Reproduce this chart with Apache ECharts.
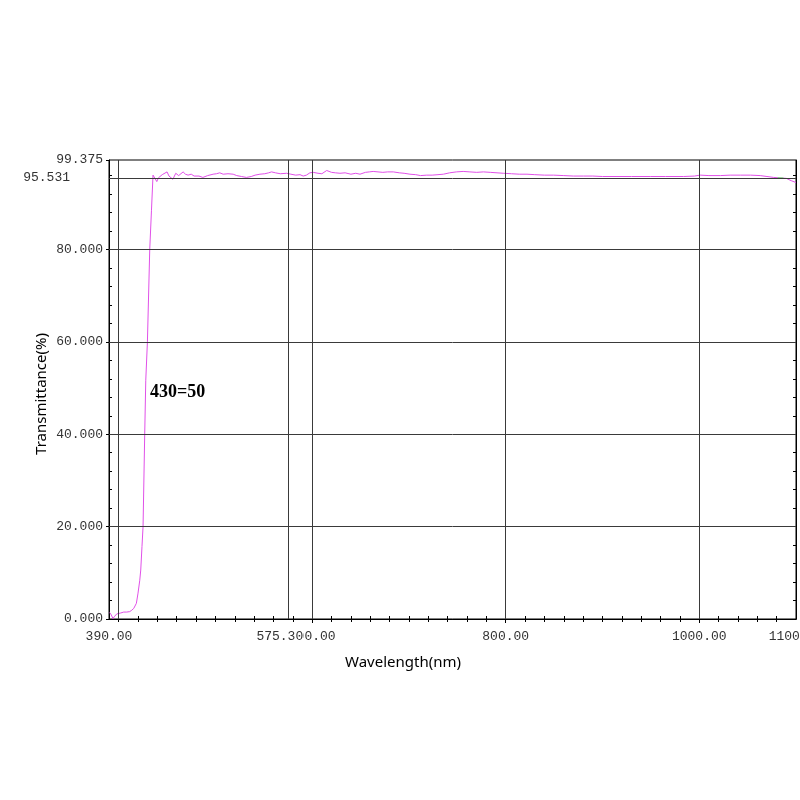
<!DOCTYPE html>
<html><head><meta charset="utf-8">
<script src="https://cdn.jsdelivr.net/npm/echarts@6/dist/echarts.min.js"></script>
<style>html,body{margin:0;padding:0;background:#fff}#c{width:800px;height:800px}</style>
</head><body><div id="c"></div>
<script>
const wavelength = [390.7,392.3,394.1,395.9,398,399.3,402.1,405.2,408.3,411.4,413.5,415.6,416.6,418.3,420,421.8,422.8,424.1,425.2,426.9,428,429.7,432.1,433.9,435.5,437,439.4,441,442.5,445,447,450,452,454,456,459,462,464,466.6,469,471.7,475,478,480,483,487,492,497.6,501,504.5,508,513,518.3,522,527,532,537,541,546,551,555,558,562,567,573.5,578,583,587.4,590.7,594,597.6,601,606,610,615,620,624,628.7,634,640,645,649.4,655,659,663,668,673,678,683.8,690,695,701,707,712,718.4,724,730,735.6,742,749,756,763,770,777,784,791,797.6,806,814,822,830,840,849.4,860,870,880.4,890,900,915,930,949.4,965,983.9,995,1001,1010,1021.9,1032,1042.6,1053,1063,1070,1077,1084,1090,1095,1100];
const transmittance = [1.4,0.9,0.1,0.6,1.1,1.4,1.3,1.5,1.5,1.6,1.9,2.3,1.9,3.4,5.6,8.4,10.6,15.7,20,40,51.7,60,80,88.5,96.1,95.9,94.7,95.5,95.6,96.2,95.8,96.8,95.9,96.3,95.2,96.5,96.0,96.3,96.8,96.3,96.1,96.3,95.9,95.6,95.9,95.6,96.0,96.3,96.4,96.6,96.3,96.4,96.3,96.0,95.8,95.6,95.8,96.1,96.3,96.4,96.6,96.8,96.6,96.4,96.5,96.3,96.1,96.2,95.9,96.1,96.6,96.7,96.5,96.4,97.1,96.7,96.6,96.5,96.6,96.3,96.5,96.3,96.7,96.8,96.9,96.8,96.7,96.8,96.8,96.6,96.5,96.3,96.2,96.0,96.1,96.1,96.2,96.3,96.6,96.8,96.9,96.8,96.7,96.8,96.7,96.6,96.5,96.4,96.3,96.3,96.2,96.1,96.1,96.0,95.9,95.9,95.9,95.8,95.8,95.8,95.8,95.8,95.8,95.9,96.1,96.0,96.0,96.1,96.1,96.1,96.0,95.8,95.6,95.5,95.4,94.9,94.5];
const markWavelength = [1081, 1087];
const markTransmittance = [95.5, 95.4];
const xLabelValues = [390, 600, 575.3, 800, 1000, 1100];
const xGridValues = [400, 575.3, 600, 800, 1000];
const xMajorTickValues = [600, 800, 1000];
const xMinorTickValues = [400,420,440,460,480,500,520,540,560,580,600,620,640,660,680,700,720,740,760,780,800,820,840,860,880,900,920,940,960,980,1000,1020,1040,1060,1080];
const yLabelValues = [0, 20, 40, 60, 80, 95.531, 99.375];
const yGridValues = [20, 40, 60, 80, 95.531];
const yMajorTickValues = [0, 20, 40, 60, 80, 99.375];
const yMinorTickValues = [4,8,12,16,20,24,28,32,36,40,44,48,52,56,60,64,68,72,76,80,84,88,92,96];
const annotationText = '430=50';
const annotationCoord = [432.4, 49.0];

const chart = echarts.init(document.getElementById('c'), null, {renderer:'canvas'});
const mono = 'Liberation Mono';
const labelColor = '#333';
const lineClr = '#000';
const baseX = {type:'value', min:390, max:1100, splitLine:{show:false}};
const baseY = {type:'value', min:0, max:99.375, splitLine:{show:false}};
const curve = wavelength.map((w,i)=>[w, transmittance[i]]);
const greenSeg = markWavelength.map((w,i)=>[w, markTransmittance[i]]);

chart.setOption({
  animation:false,
  backgroundColor:'#fff',
  grid:{left:109, top:160, right:4, bottom:181, show:true, borderColor:'#000', borderWidth:1, containLabel:false, outerBoundsMode:'none'},
  xAxis:[
    Object.assign({}, baseX, {
      position:'bottom',
      axisLine:{show:true, lineStyle:{color:lineClr}},
      axisTick:{show:true, inside:true, length:3, customValues:xMinorTickValues, lineStyle:{color:lineClr}},
      axisLabel:{show:true, customValues:xLabelValues, hideOverlap:false, margin:11,
        fontFamily:mono, fontSize:13, color:labelColor,
        formatter:function(v){ const t = Number(v).toFixed(2); return Math.abs(v-575.3)<1e-6 ? '{s|'+t+'}{g|}' : t; },
        rich:{s:{fontFamily:mono, fontSize:13, color:labelColor, backgroundColor:'#fff'}, g:{width:17}}},
      name:'Wavelength(nm)', nameLocation:'middle', nameGap:36, nameMoveOverlap:false,
      nameTextStyle:{fontFamily:'Noto Sans', fontSize:15, color:'#000', padding:[0,99,0,0]}
    }),
    Object.assign({}, baseX, {
      position:'bottom', axisLine:{show:false},
      axisTick:{show:true, inside:false, length:4, customValues:xMajorTickValues, lineStyle:{color:lineClr}},
      axisLabel:{show:false}
    }),
    Object.assign({}, baseX, {
      position:'top', axisLine:{show:true, lineStyle:{color:lineClr}},
      axisTick:{show:true, inside:true, length:3, customValues:xMinorTickValues, lineStyle:{color:lineClr}},
      axisLabel:{show:false}
    })
  ],
  yAxis:[
    Object.assign({}, baseY, {
      position:'left',
      axisLine:{show:true, lineStyle:{color:lineClr}},
      axisTick:{show:true, inside:true, length:3, customValues:yMinorTickValues, lineStyle:{color:lineClr}},
      axisLabel:{show:true, customValues:yLabelValues, hideOverlap:false, margin:6,
        fontFamily:mono, fontSize:13, color:labelColor,
        formatter:function(v){ if (Math.abs(v-95.531)<1e-6) return '{f|95.531}{g|}'; if (Math.abs(v-99.375)<1e-6) return '99.375'; return Number(v).toFixed(3); },
        rich:{f:{fontFamily:mono, fontSize:13, color:labelColor}, g:{width:33}}},
      name:'Transmittance(%)', nameLocation:'middle', nameGap:60, nameMoveOverlap:false,
      nameTextStyle:{fontFamily:'Noto Sans', fontSize:15, color:'#000', padding:[0,9,0,0]}
    }),
    Object.assign({}, baseY, {
      position:'left', axisLine:{show:false},
      axisTick:{show:true, inside:false, length:3, customValues:yMajorTickValues, lineStyle:{color:lineClr}},
      axisLabel:{show:false}
    }),
    Object.assign({}, baseY, {
      position:'right', axisLine:{show:true, lineStyle:{color:lineClr}},
      axisTick:{show:true, inside:true, length:3, customValues:yMinorTickValues, lineStyle:{color:lineClr}},
      axisLabel:{show:false}
    })
  ],
  series:[
    {
      type:'line', data:[], z:1, silent:true,
      markLine:{silent:true, symbol:'none', animation:false, label:{show:false},
        lineStyle:{color:'#3a3a3a', width:1, type:'solid'},
        data: xGridValues.map(v=>({xAxis:v})).concat(yGridValues.map(v=>({yAxis:v})))}
    },
    {
      type:'line', data:curve, z:3, showSymbol:false, symbol:'none', smooth:false,
      lineStyle:{color:'#e050e8', width:1}, silent:true,
      markPoint:{symbol:'circle', symbolSize:0, silent:true,
        data:[{coord:annotationCoord, value:annotationText}],
        label:{show:true, position:'right', distance:0, formatter:'{c}', align:'left', verticalAlign:'middle',
          fontFamily:'Liberation Serif', fontWeight:'bold', fontSize:18, color:'#000'}}
    },
    {
      type:'line', data:greenSeg, z:4, showSymbol:false, symbol:'none',
      lineStyle:{color:'#66ee66', width:1.5}, silent:true
    }
  ]
});
</script>
</body></html>
